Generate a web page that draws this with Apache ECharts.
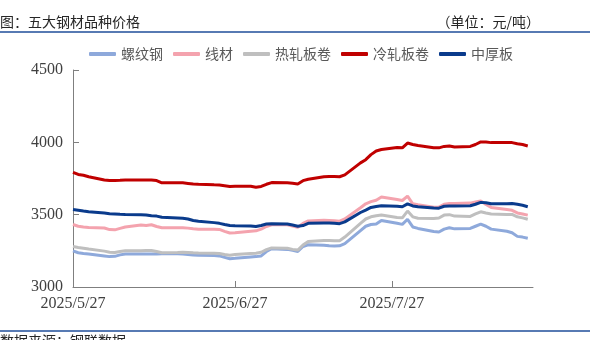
<!DOCTYPE html>
<html><head><meta charset="utf-8">
<script src="https://cdn.jsdelivr.net/npm/echarts@6/dist/echarts.min.js"></script>
<style>html,body{margin:0;padding:0;background:#fff}#c{width:604px;height:340px}</style>
</head><body><div id="c"></div>
<script>
// ---- data ----
var seriesNames = ['螺纹钢', '线材', '热轧板卷', '冷轧板卷', '中厚板'];
var dates = [
 '2025/5/27','2025/5/28','2025/5/29','2025/5/30',
 '2025/6/2','2025/6/3','2025/6/4','2025/6/5','2025/6/6',
 '2025/6/9','2025/6/10','2025/6/11','2025/6/12','2025/6/13',
 '2025/6/16','2025/6/17','2025/6/18','2025/6/19','2025/6/20',
 '2025/6/23','2025/6/24','2025/6/25','2025/6/26','2025/6/27',
 '2025/6/30','2025/7/1','2025/7/2','2025/7/3','2025/7/4',
 '2025/7/7','2025/7/8','2025/7/9','2025/7/10','2025/7/11',
 '2025/7/14','2025/7/15','2025/7/16','2025/7/17','2025/7/18',
 '2025/7/21','2025/7/22','2025/7/23','2025/7/24','2025/7/25',
 '2025/7/28','2025/7/29','2025/7/30','2025/7/31','2025/8/1',
 '2025/8/4','2025/8/5','2025/8/6','2025/8/7','2025/8/8',
 '2025/8/11','2025/8/12','2025/8/13','2025/8/14','2025/8/15',
 '2025/8/18','2025/8/19','2025/8/20','2025/8/21','2025/8/22'
];
var rebar = [3250,3237,3232,3228, 3215,3210,3212,3222,3228, 3228,3228,3228,3228,3230, 3230,3228,3225,3222,3220,
 3218,3215,3205,3195,3198, 3208,3210,3215,3245,3265, 3260,3253,3246,3280,3292, 3288,3285,3283,3285,3300,
 3390,3420,3432,3435,3460, 3440,3433,3468,3415,3405, 3383,3380,3400,3410,3402, 3405,3420,3435,3420,3400,
 3385,3375,3350,3345,3337];
var wire = [3432,3420,3415,3412, 3408,3397,3395,3405,3415, 3428,3425,3430,3418,3410, 3410,3410,3407,3402,3400,
 3400,3398,3385,3373,3375, 3385,3388,3400,3418,3430, 3430,3422,3412,3440,3457, 3462,3460,3458,3455,3470,
 3548,3575,3590,3600,3622, 3605,3598,3628,3575,3568, 3552,3552,3572,3578,3578, 3580,3588,3595,3570,3550,
 3535,3530,3512,3505,3497];
var hotCoil = [3280,3273,3268,3262, 3248,3240,3238,3245,3250, 3250,3252,3252,3245,3237, 3238,3240,3238,3236,3235,
 3233,3232,3225,3220,3225, 3232,3233,3240,3258,3270, 3268,3260,3255,3290,3315, 3322,3322,3320,3320,3345,
 3440,3470,3485,3492,3497, 3480,3478,3525,3485,3475, 3474,3477,3497,3500,3490, 3488,3505,3520,3512,3505,
 3502,3502,3485,3478,3468];
var coldCoil = [3793,3778,3772,3762, 3740,3736,3737,3738,3740, 3740,3740,3740,3736,3720, 3720,3720,3716,3712,3710,
 3706,3705,3700,3695,3697, 3697,3690,3695,3710,3722, 3720,3717,3712,3735,3745, 3762,3763,3763,3762,3775,
 3858,3880,3915,3940,3950, 3965,3962,3995,3985,3978, 3962,3962,3972,3975,3968, 3972,3985,4003,4002,3998,
 3998,3998,3990,3985,3975];
var plate = [3535,3530,3525,3520, 3512,3507,3505,3503,3502, 3500,3498,3492,3490,3482, 3477,3475,3470,3460,3455,
 3445,3440,3432,3425,3423, 3422,3418,3425,3435,3437, 3435,3428,3420,3425,3440, 3442,3442,3440,3438,3450,
 3515,3532,3550,3557,3562, 3558,3555,3575,3560,3555, 3546,3545,3558,3560,3560, 3562,3572,3585,3582,3575,
 3575,3577,3572,3565,3555];
var xStart = '2025/5/27', xEnd = '2025/8/23';
var xTickLabels = ['2025/5/27', '2025/6/27', '2025/7/27'];
var yMin = 3000, yMax = 4500, yStep = 500;

// ---- axis categories: every calendar day in range ----
function parseD(s){var p=s.split('/');return new Date(+p[0],+p[1]-1,+p[2]);}
function fmtD(d){return d.getFullYear()+'/'+(d.getMonth()+1)+'/'+d.getDate();}
var categories = [];
for (var d = parseD(xStart); d <= parseD(xEnd); d = new Date(d.getFullYear(), d.getMonth(), d.getDate()+1)) categories.push(fmtD(d));

var colors = ['#8EA9DB', '#F4A3AE', '#BFBFBF', '#C00000', '#0A3B8C'];
var values = [rebar, wire, hotCoil, coldCoil, plate];
var chart = echarts.init(document.getElementById('c'));
var showIdx = function(i, v){ return xTickLabels.indexOf(v) >= 0; };
chart.setOption({
  animation: false,
  color: colors,
  grid: {left: 73, right: 71, top: 70, bottom: 53, containLabel: false},
  legend: {
    top: 42, left: 84, itemWidth: 27, itemHeight: 4, itemGap: 10, icon: 'roundRect',
    textStyle: {fontFamily: 'Noto Sans CJK SC', fontSize: 14, color: '#595959'},
    data: seriesNames
  },
  xAxis: {
    type: 'category', data: categories, boundaryGap: false,
    axisLine: {lineStyle: {color: '#7F7F7F', width: 1}},
    axisTick: {show: true, inside: true, length: 6, interval: showIdx, lineStyle: {color: '#7F7F7F'}},
    axisLabel: {interval: showIdx, margin: 9, fontFamily: 'Liberation Serif', fontSize: 16, color: '#404040'},
    splitLine: {show: false}
  },
  yAxis: {
    type: 'value', min: yMin, max: yMax, interval: yStep,
    axisLine: {show: true, lineStyle: {color: '#7F7F7F', width: 1}},
    axisTick: {show: true, inside: true, length: 6, lineStyle: {color: '#7F7F7F'}},
    axisLabel: {margin: 10, fontFamily: 'Liberation Serif', fontSize: 16, color: '#404040',
      formatter: function(v){ return String(v); }},
    splitLine: {show: false}
  },
  series: seriesNames.map(function(n, k){
    return {
      name: n, type: 'line', symbol: 'none', smooth: false,
      lineStyle: {width: 3, color: colors[k]},
      data: dates.map(function(dt, i){ return [dt, values[k][i]]; })
    };
  }),
  graphic: [
    {type: 'text', left: 0, top: 15, style: {text: '图：五大钢材品种价格', font: '14px "Noto Sans CJK SC"', fill: '#262626'}},
    {type: 'text', right: 64, top: 15, style: {text: '（单位：元/吨）', font: '14px "Noto Sans CJK SC"', fill: '#262626'}},
    {type: 'line', shape: {x1: 0, y1: 32, x2: 590, y2: 32}, style: {stroke: '#1F4E9A', lineWidth: 1.5}},
    {type: 'line', shape: {x1: 0, y1: 331, x2: 590, y2: 331}, style: {stroke: '#1F4E9A', lineWidth: 1.5}},
    {type: 'text', left: 0, top: 334, style: {text: '数据来源：钢联数据', font: '14px "Noto Sans CJK SC"', fill: '#262626'}}
  ]
});
</script>
</body></html>
